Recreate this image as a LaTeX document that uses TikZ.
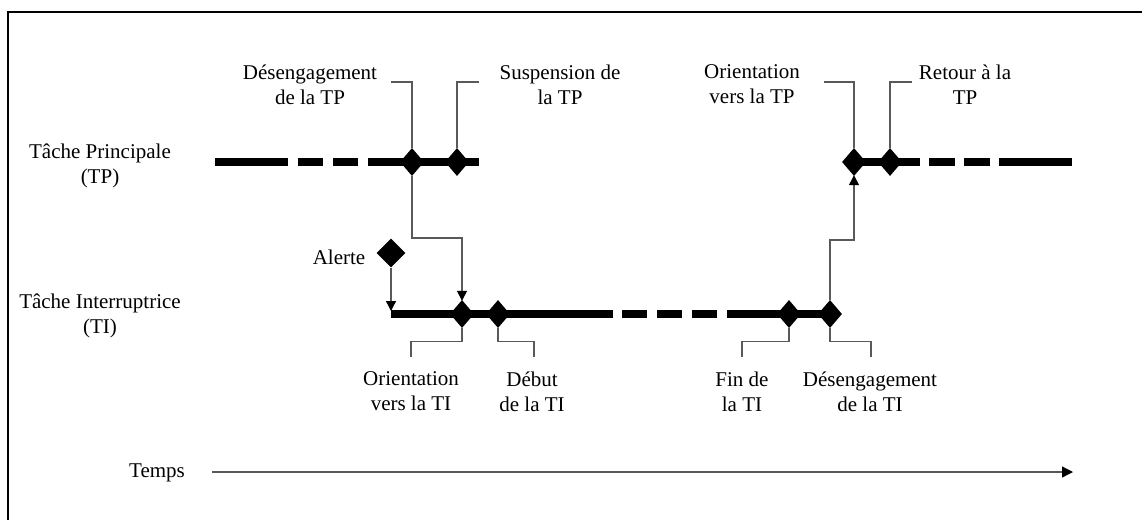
\documentclass[tikz,border=0pt]{standalone}
\usepackage{fontspec}
\setmainfont{Liberation Serif}
\usetikzlibrary{shapes.geometric,arrows.meta}
\begin{document}
\begin{tikzpicture}[x=1pt,y=-1pt,
  dia/.style={diamond,fill=black,draw=none,inner sep=0pt,minimum width=24pt,minimum height=28pt},
  bigdia/.style={diamond,fill=black,draw=none,inner sep=0pt,minimum width=29pt,minimum height=29pt},
  thick line/.style={line width=8pt,line cap=butt},
  lead/.style={draw=black!65,line width=1.3pt},
  leadarrow/.style={lead,-{Triangle[length=10pt,width=10pt,black]},shorten >=-1pt},
  lbl/.style={font=\fontsize{21}{25}\selectfont,align=center,inner sep=0pt}
]
\useasboundingbox (0,0) rectangle (1142,520);
\fill[white] (0,0) rectangle (1142,520);
% frame
\draw[line width=2pt] (8,520) -- (8,12) -- (1142,12);

% left labels
\node[lbl] (tp) at (100,166) {Tâche Principale\\(TP)};
\node[lbl] (ti) at (100,316) {Tâche Interruptrice\\(TI)};
\node[lbl] (temps) at (157,473) {Temps};

% TP line left
\coordinate (a0) at (215,162); \coordinate (a1) at (288,162);
\coordinate (a2) at (298,162); \coordinate (a3) at (323,162);
\coordinate (a4) at (333,162); \coordinate (a5) at (358,162);
\coordinate (a6) at (368,162); \coordinate (a7) at (479,162);
\draw[thick line] (a0) -- (a1) (a2) -- (a3) (a4) -- (a5) (a6) -- (a7);
% TP line right
\coordinate (b0) at (854,162); \coordinate (b1) at (920,162);
\coordinate (b2) at (929,162); \coordinate (b3) at (955,162);
\coordinate (b4) at (964,162); \coordinate (b5) at (990,162);
\coordinate (b6) at (999,162); \coordinate (b7) at (1072,162);
\draw[thick line] (b0) -- (b1) (b2) -- (b3) (b4) -- (b5) (b6) -- (b7);
% TI line
\coordinate (c0) at (391,314); \coordinate (c1) at (613,314);
\coordinate (c2) at (622,314); \coordinate (c3) at (647,314);
\coordinate (c4) at (657,314); \coordinate (c5) at (682,314);
\coordinate (c6) at (692,314); \coordinate (c7) at (717,314);
\coordinate (c8) at (727,314); \coordinate (c9) at (830,314);
\draw[thick line] (c0) -- (c1) (c2) -- (c3) (c4) -- (c5) (c6) -- (c7) (c8) -- (c9);

% diamonds
\node[dia] (dtp) at (412,162) {};
\node[dia] (stp) at (457,162) {};
\node[dia] (otp) at (854,162) {};
\node[dia] (rtp) at (890,162) {};
\node[bigdia] (al) at (391,253) {};
\node[dia] (oti) at (462,314) {};
\node[dia] (dbi) at (498,314) {};
\node[dia] (fti) at (789,314) {};
\node[dia] (dti) at (830,314) {};

% top labels
\node[lbl] (ldtp) at (310,84.5) {Désengagement\\de la TP};
\node[lbl] (lstp) at (560,84.5) {Suspension de\\la TP};
\node[lbl] (lotp) at (752,84.5) {Orientation\\vers la TP};
\node[lbl] (lrtp) at (965,84.5) {Retour à la\\TP};
\node[lbl] (lal) at (339,257) {Alerte};
% bottom labels
\node[lbl] (loti) at (411,391.5) {Orientation\\vers la TI};
\node[lbl] (ldbi) at (532,391.5) {Début\\de la TI};
\node[lbl] (lfti) at (742,391.5) {Fin de\\la TI};
\node[lbl] (ldti) at (870,391.5) {Désengagement\\de la TI};

% top leaders
\coordinate (t1) at (391,82); \coordinate (t2) at (479,82);
\coordinate (t3) at (824,82); \coordinate (t4) at (912,82);
\draw[lead] (t1) -| (dtp.north);
\draw[lead] (t2) -| (stp.north);
\draw[lead] (t3) -| (otp.north);
\draw[lead] (t4) -| (rtp.north);
% bottom leaders
\coordinate (u1) at (411,357); \coordinate (u2) at (534,357);
\coordinate (u3) at (742,357); \coordinate (u4) at (871,357);
\draw[lead] (oti.south) |- ++(0,13) -| (u1);
\draw[lead] (dbi.south) |- ++(0,13) -| (u2);
\draw[lead] (fti.south) |- ++(0,13) -| (u3);
\draw[lead] (dti.south) |- ++(0,13) -| (u4);

% transitions
\coordinate (m1) at (412,238);
\draw[leadarrow] (dtp.south) -- (m1) -| (oti.north);
\coordinate (m2) at (830,240);
\draw[leadarrow] (dti.north) -- (m2) -| (otp.south);
\coordinate (m3) at (391,310);
\draw[leadarrow] (al.south) -- (m3);

% time axis
\coordinate (e1) at (212,472); \coordinate (e2) at (1072,472);
\draw[lead,-{Triangle[length=11pt,width=11pt,black]},shorten >=-1pt] (e1) -- (e2);
\end{tikzpicture}
\end{document}
